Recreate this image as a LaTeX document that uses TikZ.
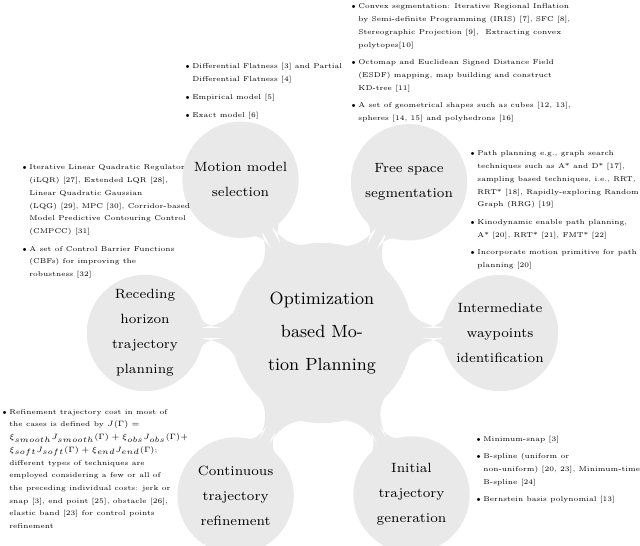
\documentclass[tikz,border=0pt]{standalone}
\usetikzlibrary{mindmap}
\newcommand{\bsize}{\fontsize{3.5}{6.35}\selectfont}
\newcommand{\bl}{\makebox[3.5pt][l]{\scalebox{0.62}{$\bullet$}}}
\newcommand{\smath}[1]{\scalebox{0.77}{\fontsize{5}{6}\selectfont$#1$}}
\tikzset{
  kid/.style={concept, minimum size=57pt, inner sep=0pt, text width={}, align=center,
     font=\fontsize{6.7}{12.5}\selectfont},
  hub/.style={concept, minimum size=89pt, inner sep=0pt, text width={}, align=center,
     font=\fontsize{8.8}{16.5}\selectfont},
  notes/.style={inner sep=0pt, anchor=base west, font=\bsize, text width={}}
}
\begin{document}
\begin{tikzpicture}[x=0.5pt, y=0.5pt]
\useasboundingbox (0,0) rectangle (640,545);
\begin{scope}[mindmap, concept color=gray!17]
\node[hub] (root) at (322,212) {Optimization\\based Mo-\\tion Planning}
  child[grow=118.9, level distance=86.8pt] {node[kid] (motion) {Motion model\\selection}}
  child[grow=60.8, level distance=87pt] {node[kid] (free) {Free space\\segmentation}}
  child[grow=0, level distance=89pt] {node[kid] (inter) {Intermediate\\waypoints\\identification}}
  child[grow=-61.4, level distance=92.3pt] {node[kid] (init) {Initial\\trajectory\\generation}}
  child[grow=-118.2, level distance=92pt] {node[kid] (cont) {Continuous\\trajectory\\refinement}}
  child[grow=180.5, level distance=88.5pt] {node[kid] (reced) {Receding\\horizon\\trajectory\\planning}};
\end{scope}

\node[notes] (nfree) at (351,536) {\begin{tabular}[t]{@{}l@{}l@{}}
\bl & Convex segmentation: Iterative Regional Inflation\\
 & by Semi-definite Programming (IRIS) [7], SFC [8],\\
 & Stereographic Projection [9], \ Extracting convex\\
 & polytopes[10]\\[2.5pt]
\bl & Octomap and Euclidean Signed Distance Field\\
 & (ESDF) mapping, map building and construct\\
 & KD-tree [11]\\[2.5pt]
\bl & A set of geometrical shapes such as cubes [12, 13],\\
 & spheres [14, 15] and polyhedrons [16]
\end{tabular}};

\node[notes] (nmotion) at (185,476) {\begin{tabular}[t]{@{}l@{}l@{}}
\bl & Differential Flatness [3] and Partial\\
 & Differential Flatness [4]\\[2.5pt]
\bl & Empirical model [5]\\[2.5pt]
\bl & Exact model [6]
\end{tabular}};

\node[notes] (nreced) at (22,375) {\begin{tabular}[t]{@{}l@{}l@{}}
\bl & Iterative Linear Quadratic Regulator\\
 & (iLQR) [27], Extended LQR [28],\\
 & Linear Quadratic Gaussian\\
 & (LQG) [29], MPC [30], Corridor-based\\
 & Model Predictive Contouring Control\\
 & (CMPCC) [31]\\[2.5pt]
\bl & A set of Control Barrier Functions\\
 & (CBFs) for improving the\\
 & robustness [32]
\end{tabular}};

\node[notes] (ninter) at (470,389) {\begin{tabular}[t]{@{}l@{}l@{}}
\bl & Path planning e.g., graph search\\
 & techniques such as A* and D* [17],\\
 & sampling based techniques, i.e., RRT,\\
 & RRT* [18], Rapidly-exploring Random\\
 & Graph (RRG) [19]\\[2.5pt]
\bl & Kinodynamic enable path planning,\\
 & A* [20], RRT* [21], FMT* [22]\\[2.5pt]
\bl & Incorporate motion primitive for path\\
 & planning [20]
\end{tabular}};

\node[notes] (ncont) at (2,131) {\begin{tabular}[t]{@{}l@{}l@{}}
\bl & Refinement trajectory cost in most of\\
 & the cases is defined by \smath{J(\Gamma)=}\\
 & \smath{\xi_{smooth}J_{smooth}(\Gamma)+\xi_{obs}J_{obs}(\Gamma)+}\\
 & \smath{\xi_{soft}J_{soft}(\Gamma)+\xi_{end}J_{end}(\Gamma)};\\
 & different types of techniques are\\
 & employed considering a few or all of\\
 & the preceding individual costs: jerk or\\
 & snap [3], end point [25], obstacle [26],\\
 & elastic band [23] for control points\\
 & refinement
\end{tabular}};

\node[notes] (ninit) at (476,104) {\begin{tabular}[t]{@{}l@{}l@{}}
\bl & Minimum-snap [3]\\[2.5pt]
\bl & B-spline (uniform or\\
 & non-uniform) [20, 23], Minimum-time\\
 & B-spline [24]\\[2.5pt]
\bl & Bernstein basis polynomial [13]
\end{tabular}};
\end{tikzpicture}
\end{document}
